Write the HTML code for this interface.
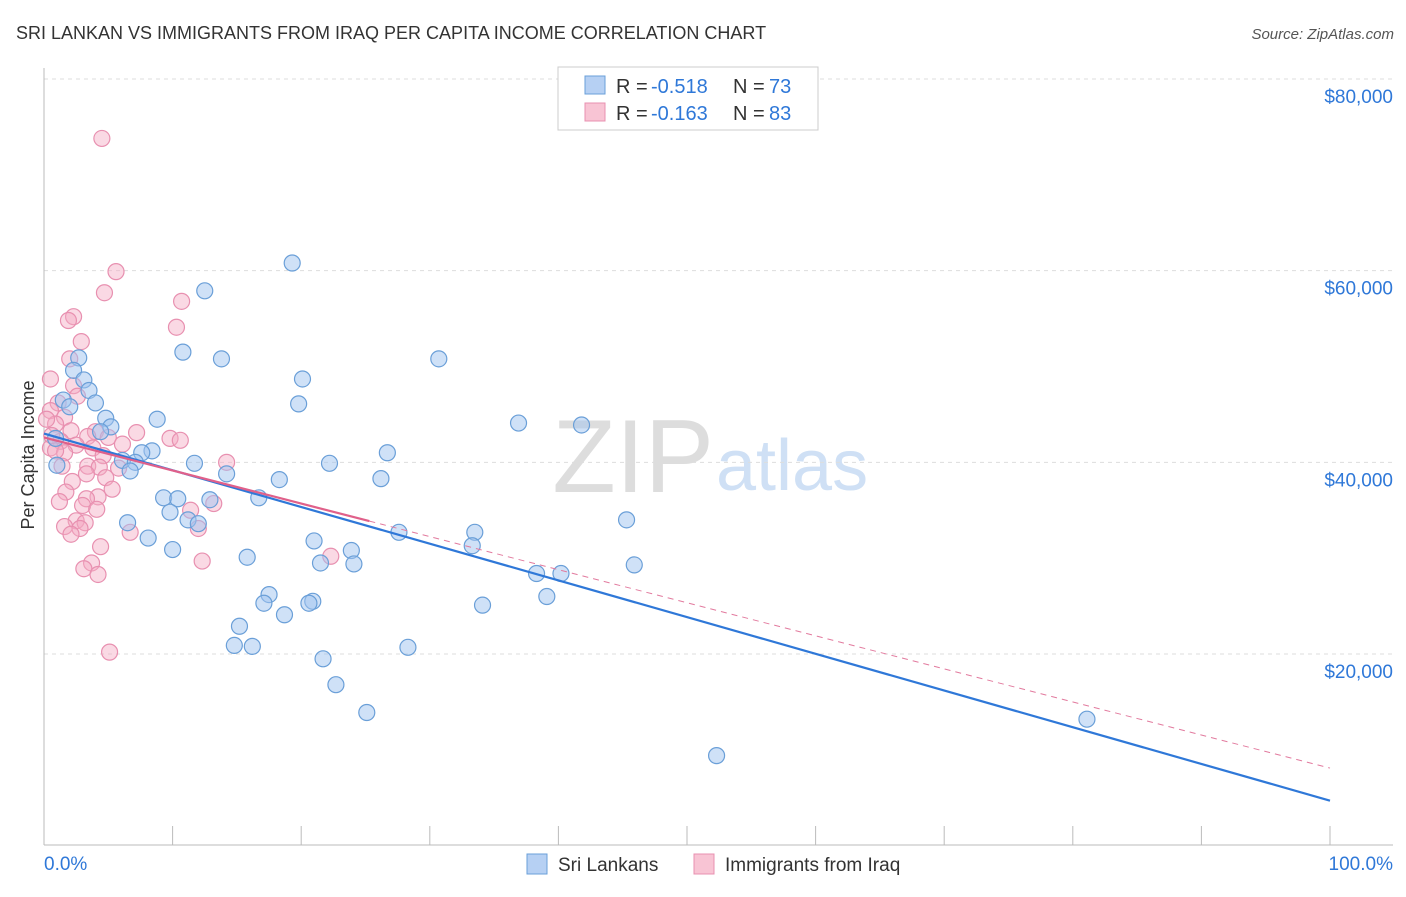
<!DOCTYPE html>
<html><head><meta charset="utf-8"><style>
body{margin:0;background:#fff;font-family:"Liberation Sans",sans-serif}
svg text{font-family:"Liberation Sans",sans-serif}
</style></head><body>
<svg id="chart" width="1406" height="892" xmlns="http://www.w3.org/2000/svg">
<text x="16" y="39" font-size="18" fill="#333">SRI LANKAN VS IMMIGRANTS FROM IRAQ PER CAPITA INCOME CORRELATION CHART</text>
<text x="1394" y="39" font-size="15" fill="#555" text-anchor="end" font-style="italic">Source: ZipAtlas.com</text>
<text x="714" y="492" font-size="104" fill="#ddd" text-anchor="end" font-family="Liberation Serif">ZIP</text>
<text x="716" y="490" font-size="72" fill="#cfe0f5">atlas</text>
<text transform="translate(34,455) rotate(-90)" font-size="18" fill="#333" text-anchor="middle">Per Capita Income</text>
<g id="grid"></g><g id="axes"></g><g id="pts"></g><g id="trends"></g>
<g>
<rect x="558" y="67" width="260" height="63" fill="#fff" stroke="#ccc"/>
<rect x="585" y="76" width="20" height="18" fill="#b6d0f3" stroke="#6a9fd8"/>
<rect x="585" y="103" width="20" height="18" fill="#f8c4d4" stroke="#e890b0"/>
<text x="616" y="93" font-size="20" fill="#333">R =</text>
<text x="651" y="93" font-size="20" fill="#2f78d8">-0.518</text>
<text x="733" y="93" font-size="20" fill="#333">N =</text>
<text x="769" y="93" font-size="20" fill="#2f78d8">73</text>
<text x="616" y="120" font-size="20" fill="#333">R =</text>
<text x="651" y="120" font-size="20" fill="#2f78d8">-0.163</text>
<text x="733" y="120" font-size="20" fill="#333">N =</text>
<text x="769" y="120" font-size="20" fill="#2f78d8">83</text>
</g>
<g>
<rect x="527" y="854" width="20" height="20" fill="#b6d0f3" stroke="#6a9fd8"/>
<text x="558" y="871" font-size="19" fill="#333">Sri Lankans</text>
<rect x="694" y="854" width="20" height="20" fill="#f8c4d4" stroke="#e890b0"/>
<text x="725" y="871" font-size="19" fill="#333">Immigrants from Iraq</text>
</g>
</svg>
<script>
const yTicks=[20000,40000,60000,80000];
const yTickLabels=["$20,000","$40,000","$60,000","$80,000"];
const xTickLabels=["0.0%","100.0%"];
const blueX=[19.3,12.5,10.8,13.8,30.7,2.7,2.3,3.1,3.5,20.1,19.8,1.5,4.0,2.0,4.8,8.8,36.9,41.8,5.2,4.4,0.9,26.7,8.4,7.6,6.1,7.1,11.7,22.2,1.0,6.7,14.2,18.3,26.2,9.3,10.4,12.9,16.7,9.8,45.3,11.2,12.0,6.5,27.6,33.5,8.1,21.0,33.3,23.9,10.0,15.8,21.5,24.1,45.9,38.3,40.2,17.5,39.1,17.1,20.9,20.6,34.1,18.7,15.2,14.8,16.2,28.3,21.7,22.7,25.1,81.1,52.3];
const blueY=[60.8,57.9,51.5,50.8,50.8,50.9,49.6,48.6,47.5,48.7,46.1,46.5,46.2,45.8,44.6,44.5,44.1,43.9,43.7,43.2,42.5,41.0,41.2,41.0,40.2,40.0,39.9,39.9,39.7,39.1,38.8,38.2,38.3,36.3,36.2,36.1,36.3,34.8,34.0,34.0,33.6,33.7,32.7,32.7,32.1,31.8,31.3,30.8,30.9,30.1,29.5,29.4,29.3,28.4,28.4,26.2,26.0,25.3,25.5,25.3,25.1,24.1,22.9,20.9,20.8,20.7,19.5,16.8,13.9,13.2,9.4];
const pinkX=[4.5,5.6,4.7,10.7,2.3,1.9,10.3,2.9,2.0,0.5,2.3,2.6,1.1,0.5,1.6,0.9,2.1,4.0,7.2,3.4,5.0,9.8,10.6,1.3,2.5,0.5,3.8,1.6,4.6,14.2,1.4,3.4,4.3,5.8,3.3,4.8,2.2,5.3,1.7,4.2,3.3,1.2,13.2,3.0,4.1,11.4,2.5,3.2,1.6,2.8,12.0,6.7,2.1,4.4,22.3,12.3,3.7,3.1,4.2,5.1,0.2,0.9,0.6,6.1];
const pinkY=[73.8,59.9,57.7,56.8,55.2,54.8,54.1,52.6,50.8,48.7,48.0,46.9,46.2,45.4,44.7,44.0,43.3,43.2,43.1,42.7,42.6,42.5,42.3,42.2,41.8,41.5,41.5,41.0,40.7,40.0,39.6,39.6,39.5,39.4,38.8,38.4,38.0,37.2,36.9,36.4,36.2,35.9,35.7,35.5,35.1,35.0,33.9,33.7,33.3,33.1,33.1,32.7,32.5,31.2,30.2,29.7,29.5,28.9,28.3,20.2,44.5,41.2,42.8,41.9];
const blueTrend=[43.0,4.7];
const pinkTrend=[42.6,8.1];
const pinkSolidEnd=25.3;
const X0=44,X1=1330,YB=845.7,YT=79;
const xs=p=>X0+(X1-X0)*p/100;
const ys=v=>YB-(YB-YT)*v/80;
const NS="http://www.w3.org/2000/svg";
function mk(tag,attrs,parent){const e=document.createElementNS(NS,tag);for(const k in attrs)e.setAttribute(k,attrs[k]);parent.appendChild(e);return e;}
const grid=document.getElementById('grid'),axes=document.getElementById('axes'),pts=document.getElementById('pts'),tr=document.getElementById('trends');
yTicks.forEach((t,i)=>{const y=ys(t/1000);
const l=mk('line',{x1:44,x2:1393,y1:y,y2:y,stroke:'#ddd','stroke-dasharray':'4,4'},grid);


const tx=mk('text',{x:1393,y:y+24,'font-size':19,fill:'#2f78d8','text-anchor':'end'},axes);tx.textContent=yTickLabels[i];

});
const ax=mk('line',{x1:44,x2:1393,y1:845,y2:845,stroke:'#bbb'},axes);


const ay=mk('line',{x1:44,x2:44,y1:68,y2:845,stroke:'#bbb'},axes);


for(let i=0;i<=10;i++){const x=xs(i*10);const t=mk('line',{x1:x,x2:x,y1:826,y2:845,stroke:'#bbb'},axes);

}
const xl0=mk('text',{x:44,y:870,'font-size':19,fill:'#2f78d8'},axes);xl0.textContent=xTickLabels[0];


const xl1=mk('text',{x:1393,y:870,'font-size':19,fill:'#2f78d8','text-anchor':'end'},axes);xl1.textContent=xTickLabels[1];


pinkX.forEach((x,i)=>{const c=mk('circle',{cx:xs(x),cy:ys(pinkY[i]),r:8,fill:'rgba(244,170,195,0.45)',stroke:'#e890b0','stroke-width':1.2},pts);

});
blueX.forEach((x,i)=>{const c=mk('circle',{cx:xs(x),cy:ys(blueY[i]),r:8,fill:'rgba(160,195,240,0.5)',stroke:'#6a9fd8','stroke-width':1.2},pts);

});
const pv=p=>pinkTrend[0]+(pinkTrend[1]-pinkTrend[0])*p/100;
const pd=mk('line',{x1:xs(pinkSolidEnd),y1:ys(pv(pinkSolidEnd)),x2:xs(100),y2:ys(pinkTrend[1]),stroke:'#e27a9e','stroke-width':1,'stroke-dasharray':'6,5'},tr);


const bl=mk('line',{x1:xs(0),y1:ys(blueTrend[0]),x2:xs(100),y2:ys(blueTrend[1]),stroke:'#2f78d8','stroke-width':2.2},tr);


const ps=mk('line',{x1:xs(0),y1:ys(pinkTrend[0]),x2:xs(pinkSolidEnd),y2:ys(pv(pinkSolidEnd)),stroke:'#e0608a','stroke-width':2.2},tr);


</script>
</body></html>
